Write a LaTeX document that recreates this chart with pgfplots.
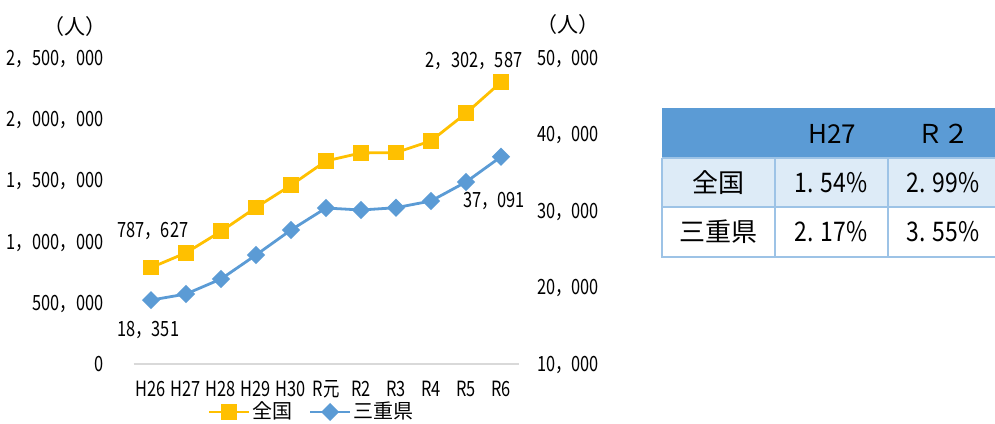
\documentclass[border=0pt]{standalone}
\usepackage{pgfplots}
\pgfplotsset{compat=1.18}
\usepackage{fontspec}
\setmainfont{Noto Sans CJK JP}[FakeStretch=0.78]
\newfontfamily\tabfont{Noto Sans CJK JP}
\newfontfamily\tabnum{Noto Sans CJK JP}[FakeStretch=0.85]
\definecolor{orgC}{HTML}{FFC000}
\definecolor{bluC}{HTML}{5B9BD5}
\definecolor{axC}{HTML}{D9D9D9}
\definecolor{hdrC}{HTML}{5B9BD5}
\definecolor{rowC}{HTML}{DDEBF7}
\definecolor{brdC}{HTML}{9DC3E6}
\begin{document}
\fontsize{21}{25}\selectfont
\begin{tikzpicture}[x=1pt,y=1pt]
\path[use as bounding box] (0,0) rectangle (995,423);
% left axis: 全国
\begin{axis}[
  at={(133.5pt,59pt)}, anchor=south west,
  scale only axis, width=385pt, height=306pt,
  xmin=-0.5, xmax=10.5, ymin=0, ymax=2500000,
  axis x line*=bottom, axis y line*=left,
  x axis line style={draw=axC, line width=1.2pt},
  y axis line style={draw=none},
  major tick length=0pt,
  xtick={0,...,10},
  xticklabels={H26,H27,H28,H29,H30,R元,R2,R3,R4,R5,R6},
  xticklabel style={anchor=base, inner sep=0pt, yshift=-32pt},
  ytick={0,500000,1000000,1500000,2000000,2500000},
  yticklabels={0,{500，000},{1，000，000},{1，500，000},{2，000，000},{2，500，000}},
  yticklabel style={anchor=base east, inner sep=0pt, xshift=-30pt, yshift=-7.5pt},
  scaled y ticks=false,
  clip=false,
  legend style={draw=none, fill=none, at={(0.463,-0.157)}, anchor=center,
    legend columns=-1, font=\tabfont\fontsize{20}{24}\selectfont,
    /tikz/every even column/.append style={column sep=14pt},
    nodes={inner sep=2pt}},
  legend image code/.code={\draw[mark repeat=2,mark phase=2,#1] plot coordinates {(0pt,0pt) (20pt,0pt) (40pt,0pt)};},
]
\addplot[color=orgC, line width=2.8pt, mark=square*, mark size=6.5pt, mark options={solid}]
  coordinates {(0,787627) (1,907896) (2,1083769) (3,1278670) (4,1460463) (5,1658804) (6,1724328) (7,1727221) (8,1822725) (9,2048675) (10,2302587)};
\addlegendentry{全国}
\addlegendimage{color=bluC, line width=2.8pt, mark=square*, mark size=5pt, mark options={rotate=45, solid}}
\addlegendentry{三重県}
\node[anchor=center] at (axis cs:0.05,1087000) {787，627};
\node[anchor=center] at (axis cs:9.23,2475000) {2，302，587};
\end{axis}
% right axis: 三重県
\begin{axis}[
  at={(133.5pt,59pt)}, anchor=south west,
  scale only axis, width=385pt, height=306pt,
  xmin=-0.5, xmax=10.5, ymin=10000, ymax=50000,
  axis x line=none, axis y line*=right,
  y axis line style={draw=none},
  major tick length=0pt,
  ytick={10000,20000,30000,40000,50000},
  yticklabels={{10，000},{20，000},{30，000},{40，000},{50，000}},
  yticklabel style={anchor=base west, inner sep=0pt, xshift=18.5pt, yshift=-7.5pt},
  scaled y ticks=false,
  clip=false,
]
\addplot[color=bluC, line width=2.8pt, mark=square*, mark size=5pt, mark options={rotate=45, solid}]
  coordinates {(0,18351) (1,19150) (2,21110) (3,24250) (4,27520) (5,30390) (6,30130) (7,30430) (8,31310) (9,33790) (10,37091)};
\node[anchor=center] at (axis cs:-0.08,14444) {18，351};
\node[anchor=center] at (axis cs:9.8,31307) {37，091};
\end{axis}
% unit labels
\node[font=\tabfont\fontsize{21}{25}\selectfont] at (75,396) {（人）};
\node[font=\tabfont\fontsize{21}{25}\selectfont] at (568,398) {（人）};
% table
\fill[hdrC] (662,265) rectangle (995,315);
\fill[rowC] (662,216) rectangle (995,265);
\fill[white] (662,166) rectangle (995,216);
\draw[brdC, line width=1.5pt] (662,265) -- (662,166) -- (995,166);
\draw[brdC, line width=1.5pt] (662,216) -- (995,216);
\draw[brdC, line width=1.5pt] (662,265) -- (995,265);
\draw[brdC, line width=1.5pt] (775,265) -- (775,166);
\draw[brdC, line width=1.5pt] (888,265) -- (888,166);
\begin{scope}[every node/.style={font=\tabfont\fontsize{26}{30}\selectfont, anchor=center}]
\node at (832,289) {H27};
\node at (943,289) {Ｒ２};
\node at (718,240) {全国};
\node at (718,191) {三重県};
\end{scope}
\begin{scope}[every node/.style={font=\tabnum\fontsize{27}{30}\selectfont, anchor=center}]
\node at (831,240) {1.\hspace{0.25em}54\%};
\node at (943,240) {2.\hspace{0.25em}99\%};
\node at (831,191) {2.\hspace{0.25em}17\%};
\node at (943,191) {3.\hspace{0.25em}55\%};
\end{scope}
\end{tikzpicture}
\end{document}
